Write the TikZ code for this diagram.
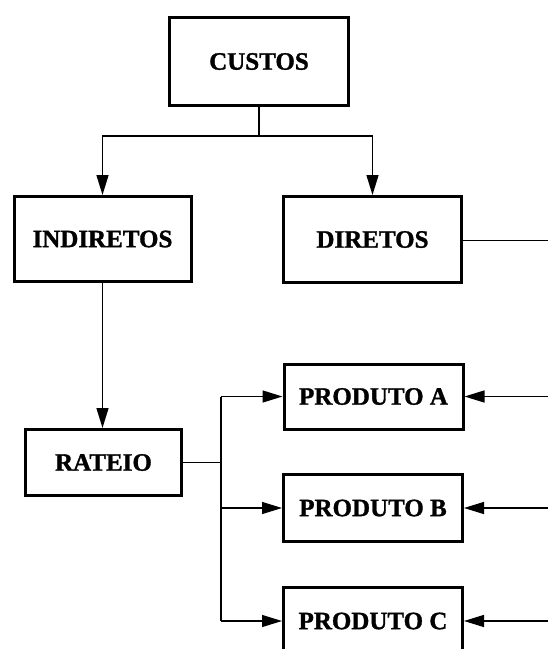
\documentclass[tikz,border=0pt]{standalone}
\usepackage{fontspec}
\setmainfont{Liberation Serif}[BoldFeatures={FakeBold=1.2}]
\usetikzlibrary{arrows.meta}
\begin{document}
\begin{tikzpicture}[x=1pt,y=-1pt,
  box/.style={draw=black, line width=3pt, inner sep=0pt, fill=white,
    font=\fontsize{25}{28}\selectfont\bfseries},
  link/.style={line width=1.3pt},
  arr/.style={link, -{Triangle[length=20pt,width=12pt]}}]
\useasboundingbox (0,0) rectangle (548,649);
\fill[white] (0,0) rectangle (548,649);

% boxes
\node[box, minimum width=179pt, minimum height=88pt] (custos) at (259,61.5) {CUSTOS};
\node[box, minimum width=177pt, minimum height=85pt] (indiretos) at (102.5,239) {INDIRETOS};
\node[box, minimum width=178pt, minimum height=86pt] (diretos) at (372.5,239.5) {DIRETOS};
\node[box, minimum width=156pt, minimum height=66pt] (rateio) at (103.5,462.5) {RATEIO};
\node[box, minimum width=179pt, minimum height=65pt] (prodA) at (373.5,396.5) {PRODUTO A};
\node[box, minimum width=179pt, minimum height=67pt] (prodB) at (373,508) {PRODUTO B};
\node[box, minimum width=179pt, minimum height=67pt] (prodC) at (373,621) {PRODUTO C};

% free ends on the right edge
\coordinate (dirEnd) at (548,240.5);
\coordinate (inA) at (548,396.5);
\coordinate (inB) at (548,508);
\coordinate (inC) at (548,621);
\coordinate (split) at (259,136);
\coordinate (branch) at (221,462.5);

% CUSTOS splits into INDIRETOS and DIRETOS
\draw[link] (custos.south) -- (split);
\draw[arr] (split) -| (indiretos.north);
\draw[arr] (split) -| (diretos.north);

% DIRETOS goes out to the right
\draw[link] (diretos.east |- dirEnd) -- (dirEnd);

% INDIRETOS to RATEIO
\draw[arr] (indiretos.south) -- (indiretos.south |- rateio.north);

% RATEIO distributes to the products
\draw[link] (rateio.east) -- (branch);
\draw[link] (branch |- prodA.west) -- (branch |- prodC.west);
\draw[arr] (branch |- prodA.west) -- (prodA.west);
\draw[arr] (branch |- prodB.west) -- (prodB.west);
\draw[arr] (branch |- prodC.west) -- (prodC.west);

% direct costs reaching each product
\draw[arr] (inA) -- (prodA.east);
\draw[arr] (inB) -- (prodB.east);
\draw[arr] (inC) -- (prodC.east);
\end{tikzpicture}
\end{document}
